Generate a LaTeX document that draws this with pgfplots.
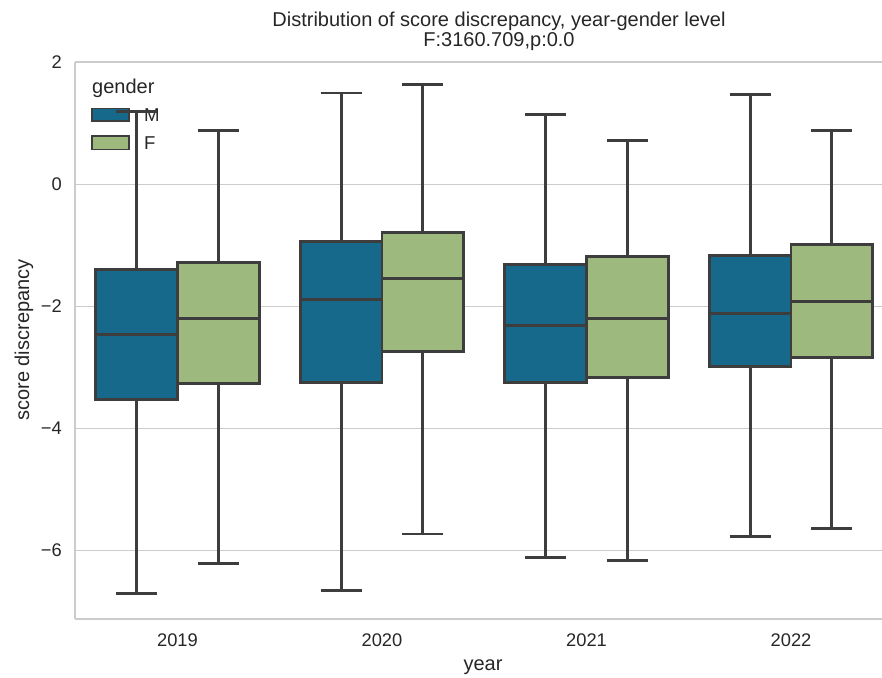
\documentclass[border=0pt]{standalone}
\usepackage{fontspec}
\setmainfont{Liberation Sans}
\usepackage{pgfplots}
\pgfplotsset{compat=1.18}
\usepgfplotslibrary{statistics}
\definecolor{mblue}{RGB}{23,105,139}
\definecolor{fgreen}{RGB}{157,185,125}
\definecolor{edge}{RGB}{61,61,61}
\definecolor{spine}{RGB}{204,204,204}
\definecolor{txt}{RGB}{38,38,38}
\pgfplotsset{
  bx/.style={draw=edge, line width=2.9pt, forget plot, solid,
    boxplot/box extend=0.4, boxplot/whisker extend=0.2},
}
\begin{document}
\begin{tikzpicture}
% legend (drawn first so that whiskers pass over it, as in the reference)
\node[anchor=base west, inner sep=0pt, text=txt, font=\fontsize{20}{24}\selectfont] at (16.75pt,525.4pt) {gender};
\draw[fill=mblue, draw=edge, line width=1.5pt] (16.75pt,497.7pt) rectangle (53.75pt,510.4pt);
\draw[fill=fgreen, draw=edge, line width=1.5pt] (16.75pt,469.4pt) rectangle (53.75pt,482.7pt);
\node[anchor=base west, inner sep=0pt, text=txt, font=\fontsize{18.6}{22}\selectfont] at (68.75pt,497pt) {M};
\node[anchor=base west, inner sep=0pt, text=txt, font=\fontsize{18.6}{22}\selectfont] at (68.75pt,469.4pt) {F};
\begin{axis}[
  scale only axis, width=806.75pt, height=556.7pt,
  xmin=-0.5, xmax=3.445, ymin=-7.118, ymax=2.008,
  axis x line*=box, axis y line*=left,
  axis line style={draw=spine, line width=2.2pt},
  xtick={0,1,2,3}, xticklabels={2019,2020,2021,2022},
  ytick={-6,-4,-2,0,2}, yticklabels={−6,−4,−2,0,2},
  major tick length=0pt, tick style={draw=none},
  ymajorgrids, major grid style={draw=spine, line width=1.6pt},
  xticklabel style={anchor=base, inner sep=0pt, yshift=-27.3pt, font=\fontsize{18.3}{22}\selectfont, text=txt},
  yticklabel style={anchor=east, inner sep=0pt, xshift=-13.25pt, font=\fontsize{18.3}{22}\selectfont, text=txt},
  boxplot/draw direction=y,
]
% 2019
\addplot[bx, fill=mblue, boxplot prepared={draw position=-0.2, lower whisker=-6.70, lower quartile=-3.52, median=-2.46, upper quartile=-1.40, upper whisker=1.20}] coordinates {};
\addplot[bx, fill=fgreen, boxplot prepared={draw position=0.2, lower whisker=-6.22, lower quartile=-3.26, median=-2.20, upper quartile=-1.28, upper whisker=0.88}] coordinates {};
% 2020
\addplot[bx, fill=mblue, boxplot prepared={draw position=0.8, lower whisker=-6.65, lower quartile=-3.24, median=-1.89, upper quartile=-0.93, upper whisker=1.50}] coordinates {};
\addplot[bx, fill=fgreen, boxplot prepared={draw position=1.2, lower whisker=-5.73, lower quartile=-2.74, median=-1.54, upper quartile=-0.78, upper whisker=1.64}] coordinates {};
% 2021
\addplot[bx, fill=mblue, boxplot prepared={draw position=1.8, lower whisker=-6.12, lower quartile=-3.24, median=-2.31, upper quartile=-1.31, upper whisker=1.14}] coordinates {};
\addplot[bx, fill=fgreen, boxplot prepared={draw position=2.2, lower whisker=-6.17, lower quartile=-3.17, median=-2.20, upper quartile=-1.18, upper whisker=0.72}] coordinates {};
% 2022
\addplot[bx, fill=mblue, boxplot prepared={draw position=2.8, lower whisker=-5.77, lower quartile=-2.99, median=-2.11, upper quartile=-1.17, upper whisker=1.47}] coordinates {};
\addplot[bx, fill=fgreen, boxplot prepared={draw position=3.2, lower whisker=-5.64, lower quartile=-2.84, median=-1.92, upper quartile=-0.99, upper whisker=0.89}] coordinates {};
\end{axis}
% titles and labels
\node[anchor=base, inner sep=0pt, text=txt, font=\fontsize{20}{24}\selectfont] at (423.75pt,591.7pt) {Distribution of score discrepancy, year-gender level};
\node[anchor=base, inner sep=0pt, text=txt, font=\fontsize{20}{24}\selectfont] at (423.75pt,571.7pt) {F:3160.709,p:0.0};
\node[anchor=base, inner sep=0pt, text=txt, font=\fontsize{20}{24}\selectfont] at (407.75pt,-51.3pt) {year};
\node[anchor=base, rotate=90, inner sep=0pt, text=txt, font=\fontsize{20}{24}\selectfont] at (-46.25pt,278.7pt) {score discrepancy};
\pgfresetboundingbox
\path[use as bounding box] (-75.25pt,-58.3pt) rectangle (806.75pt,618.7pt);
\end{tikzpicture}
\end{document}
